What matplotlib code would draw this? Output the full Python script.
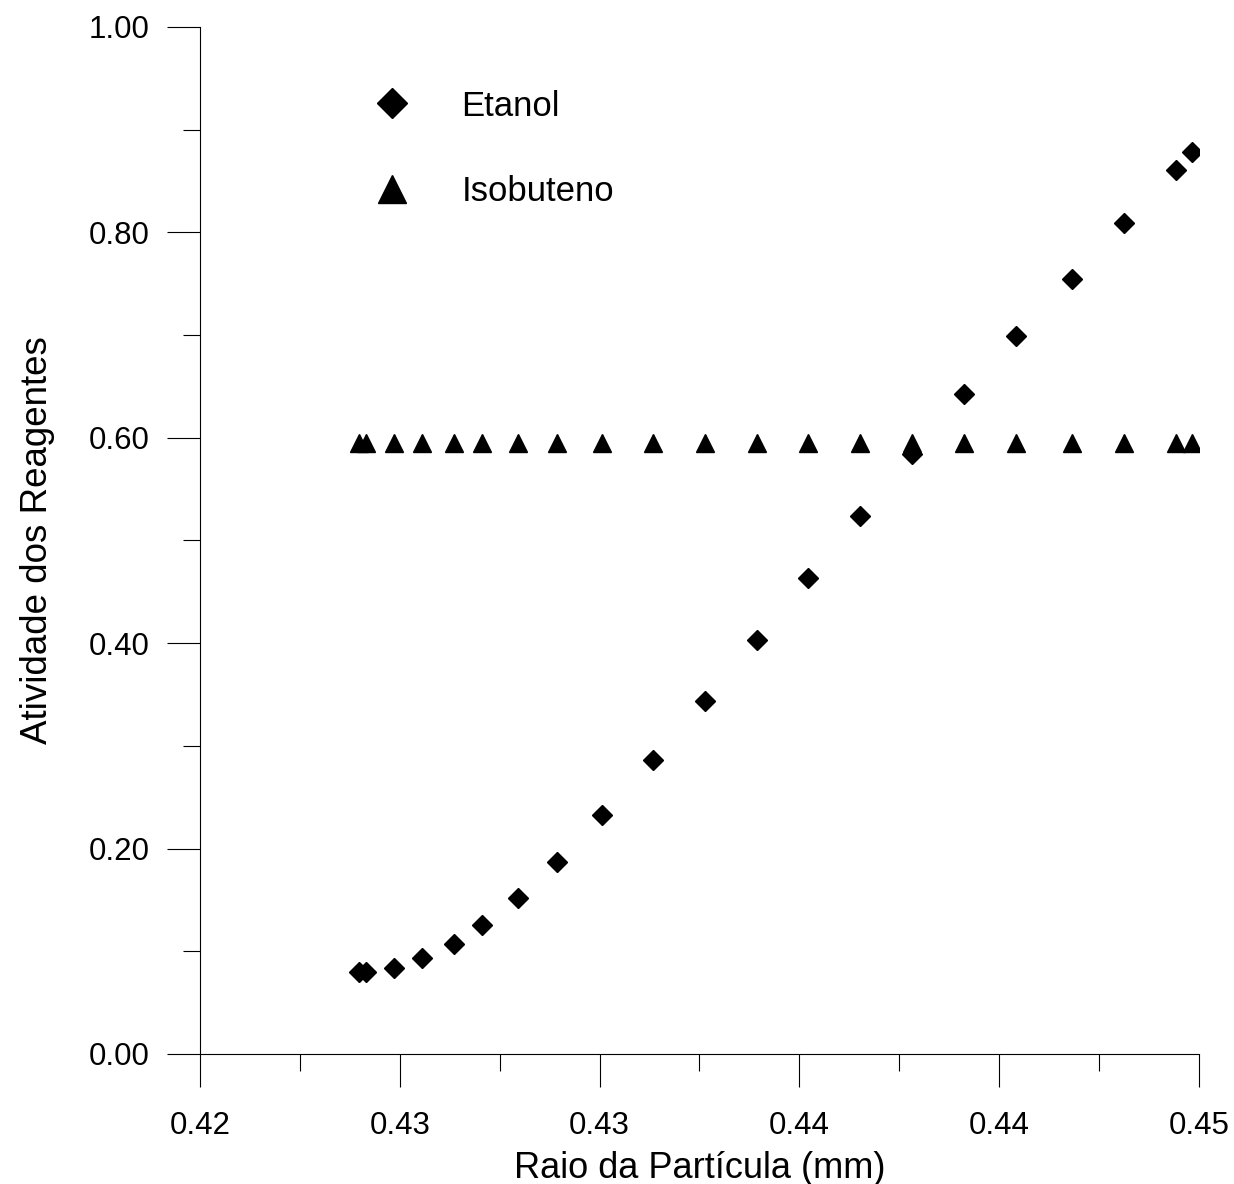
import numpy as np
import matplotlib
matplotlib.use("Agg")
import matplotlib.pyplot as plt
from matplotlib.ticker import MultipleLocator, FixedLocator, FixedFormatter

plt.rcParams['font.family'] = ['Liberation Sans', 'DejaVu Sans']

# raio da particula (mm)
RAIO = [0.42897, 0.42915, 0.42985, 0.43056, 0.43136, 0.43207, 0.43295,
        0.43393, 0.43506, 0.43634, 0.43765, 0.43893, 0.44022, 0.44152,
        0.44281, 0.44411, 0.44542, 0.44681, 0.44811, 0.44942, 0.44982]
ETANOL = [0.080, 0.080, 0.084, 0.093, 0.107, 0.126, 0.152, 0.187, 0.233,
          0.286, 0.344, 0.403, 0.463, 0.524, 0.584, 0.643, 0.699, 0.755,
          0.809, 0.861, 0.878]
ISOBUTENO = [0.595, 0.595, 0.595, 0.595, 0.595, 0.595, 0.595, 0.595, 0.595,
             0.595, 0.595, 0.595, 0.595, 0.595, 0.595, 0.595, 0.595, 0.595,
             0.595, 0.595, 0.595]
XTICKS = [0.425, 0.430, 0.435, 0.440, 0.445, 0.450]
XLABELS = ["0.42", "0.43", "0.43", "0.44", "0.44", "0.45"]


def main():
    fig = plt.figure(figsize=(12.34, 11.84), dpi=100)
    ax = fig.add_axes([0.162, 0.1098, 0.8097, 0.8674])

    ax.plot(RAIO, ETANOL, "D", color="black", markersize=10, label="Etanol")
    ax.plot(RAIO, ISOBUTENO, "^", color="black", markersize=13, label="Isobuteno")

    ax.set_xlim(0.425, 0.450)
    ax.set_ylim(0.0, 1.0)
    ax.spines["top"].set_visible(False)
    ax.spines["right"].set_visible(False)
    ax.spines["left"].set_linewidth(0.8)
    ax.spines["bottom"].set_linewidth(0.8)

    ax.xaxis.set_major_locator(FixedLocator(XTICKS))
    ax.xaxis.set_major_formatter(FixedFormatter(XLABELS))
    ax.xaxis.set_minor_locator(MultipleLocator(0.0025))
    ax.yaxis.set_major_locator(MultipleLocator(0.2))
    ax.yaxis.set_minor_locator(MultipleLocator(0.1))
    ax.yaxis.set_major_formatter(plt.FormatStrFormatter("%.2f"))

    ax.tick_params(which="major", direction="out", length=24, width=0.8, labelsize=22.5)
    ax.tick_params(which="minor", direction="out", length=12, width=0.8)
    ax.tick_params(axis="x", which="major", pad=17)
    ax.tick_params(axis="y", which="major", pad=12)

    ax.set_xlabel("Raio da Partícula (mm)", fontsize=26)
    ax.set_ylabel("Atividade dos Reagentes", fontsize=26.5)
    ax.xaxis.set_label_coords(0.5, -0.094)
    ax.yaxis.set_label_coords(-0.145, 0.5)

    ax.legend(loc="upper left", bbox_to_anchor=(0.175, 0.939), frameon=False,
              fontsize=25, markerscale=1.5, handlelength=1.0, handletextpad=1.5,
              labelspacing=1.5, borderpad=0, borderaxespad=0)

    plt.savefig("out.png", dpi=100)


if __name__ == "__main__":
    main()
